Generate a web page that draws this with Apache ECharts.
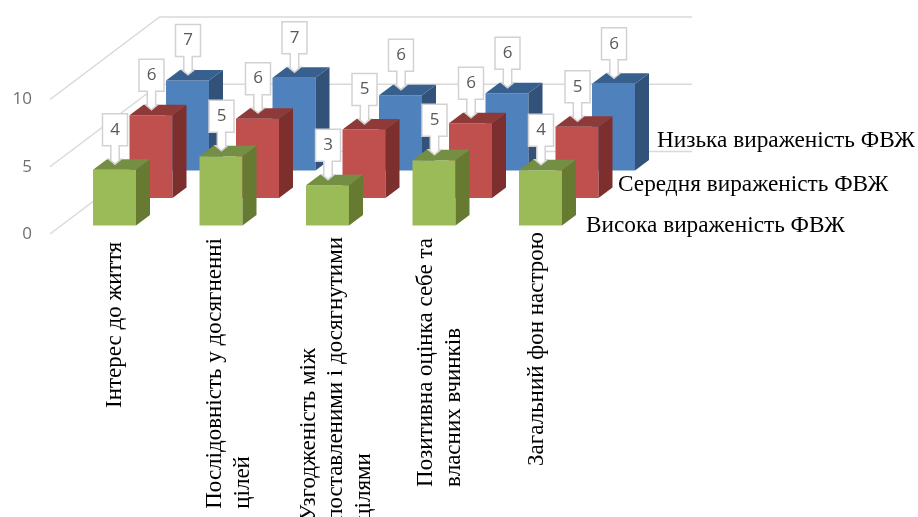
<!DOCTYPE html>
<html>
<head>
<meta charset="utf-8">
<style>html,body{margin:0;padding:0;background:#fff}#c{width:918px;height:517px}</style>
<script src="https://cdn.jsdelivr.net/npm/echarts@6/dist/echarts.min.js"></script>
</head>
<body>
<div id="c"></div>
<script>
const categories = ['Інтерес до життя', 'Послідовність у досягненні\nцілей', 'Узгодженість між\nпоставленими і досягнутими\nцілями', 'Позитивна оцінка себе та\nвласних вчинків', 'Загальний фон настрою'];
const seriesNames = ['Висока вираженість ФВЖ', 'Середня вираженість ФВЖ', 'Низька вираженість ФВЖ'];
const highValues = [4.15, 5.15, 3.0, 4.85, 4.1];
const midValues = [6.15, 5.9, 5.1, 5.55, 5.3];
const lowValues = [6.7, 6.9, 5.6, 5.75, 6.45];
const yTicks = [0, 5, 10];

// styling
const palette = [
  {front: '#9BBB59', side: '#667A32', top: '#748F43'},
  {front: '#C0504D', side: '#7C2F2D', top: '#8E3A38'},
  {front: '#4F81BD', side: '#32527A', top: '#38608F'}
];
const rowStep = [36.5, -27.5], rowPad = [11.25, -8.5], barDepth = [14, -10.5], barRatio = 43 / 106.5;
const labelNudge = [0, 8, 8.5, 6, -4];      // x shift of each category label
const labelTop = [242, 238, 237, 238, 232]; // y of the upper end of each label
const nameX = [586, 618, 657], nameY = [226, 185, 141];
const serif = '"Liberation Serif","Times New Roman",serif';
const sans = '"Open Sans",sans-serif';

function barItem(depth) {
  return function (params, api) {
    const cat = api.value(0), val = api.value(1);
    const p = api.coord([cat, val]), b = api.coord([cat, 0]);
    const band = api.size([1, 0])[0], w = band * barRatio;
    const ox = rowPad[0] + rowStep[0] * depth, oy = rowPad[1] + rowStep[1] * depth;
    const x = p[0] + ox - w / 2, t = p[1] + oy, bt = b[1] + oy;
    const dx = barDepth[0], dy = barDepth[1];
    const c = palette[depth];
    const cx = x + w / 2 + 0.5, tip = t - 5.5, bb = t - 24, bh = 32, bw = 25, neck = 4.2, head = 6, hy = tip - 5;
    return {
      type: 'group',
      children: [
        {type: 'rect', shape: {x: x, y: t, width: w, height: bt - t}, style: {fill: c.front}},
        {type: 'polygon', shape: {points: [[x + w, t], [x + w + dx, t + dy], [x + w + dx, bt + dy], [x + w, bt]]}, style: {fill: c.side}},
        {type: 'polygon', shape: {points: [[x, t], [x + w, t], [x + w + dx, t + dy], [x + dx, t + dy]]}, style: {fill: c.top}},
        {type: 'polygon', shape: {points: [
          [cx - bw / 2, bb - bh], [cx + bw / 2, bb - bh], [cx + bw / 2, bb], [cx + neck, bb], [cx + neck, hy],
          [cx + head, hy], [cx, tip], [cx - head, hy], [cx - neck, hy], [cx - neck, bb], [cx - bw / 2, bb]
        ]}, style: {fill: '#fff', stroke: '#d2d2d2', lineWidth: 1.5}},
        {type: 'text', x: cx, y: bb - bh / 2, style: {text: String(Math.round(val)), fill: '#595959', font: '17px ' + sans, align: 'center', verticalAlign: 'middle'}}
      ]
    };
  };
}
function wallItem(params, api) {
  const v = api.value(0), band = api.size([1, 0])[0];
  const a = api.coord([0, v]), z = api.coord([categories.length - 1, v]);
  const bx = rowStep[0] * 3, by = rowStep[1] * 3;
  const l = a[0] - band / 2, r = z[0] + band / 2;
  return {type: 'polyline', shape: {points: [[l, a[1]], [l + bx, a[1] + by], [r + bx, a[1] + by]]}, style: {fill: 'none', stroke: '#d9d9d9', lineWidth: 1.5}};
}
function labelItem(params, api) {
  const i = api.value(0), p = api.coord([i, 0]);
  const rows = categories[i].split('\n').map(s => '{a|' + s + '}').join('\n');
  return {type: 'text', x: p[0] + rowPad[0] + labelNudge[i], y: labelTop[i], rotation: Math.PI / 2, style: {
    text: rows, align: 'right', verticalAlign: 'middle',
    rich: {a: {align: 'left', lineHeight: 27.5, fontSize: 23, fontFamily: serif, fill: '#000'}}
  }};
}
const rows = [highValues, midValues, lowValues];
const chart = echarts.init(document.getElementById('c'), null, {renderer: 'canvas'});
const barSeries = [2, 1, 0].map(d => ({
  name: seriesNames[d], type: 'custom', renderItem: barItem(d), silent: true, z: 3 + (2 - d),
  encode: {x: 0, y: 1}, data: rows[d].map((v, i) => [i, v])
}));
chart.setOption({
  animation: false,
  backgroundColor: '#fff',
  grid: {left: 50, top: 99.5, width: 532.5, height: 134.5, containLabel: false},
  xAxis: {type: 'category', data: categories, axisLine: {show: false}, axisTick: {show: false}, axisLabel: {show: false}},
  yAxis: {type: 'value', min: 0, max: 10, interval: 5, axisLine: {show: false}, axisTick: {show: false}, splitLine: {show: false},
    axisLabel: {margin: 18, color: '#6f6f6f', fontSize: 17, fontFamily: sans, padding: [4, 0, 0, 0]}},
  series: [
    {type: 'custom', renderItem: wallItem, silent: true, z: 1, encode: {y: 0}, data: yTicks.map(v => [v]), clip: false},
    ...barSeries,
    {type: 'custom', renderItem: labelItem, silent: true, z: 8, encode: {x: 0}, data: categories.map((c, i) => [i])}
  ],
  graphic: seriesNames.map((n, i) => ({
    type: 'text', x: nameX[i], y: nameY[i], z: 10,
    style: {text: n, fill: '#000', font: '23.3px ' + serif, verticalAlign: 'middle'}
  }))
});
</script>
</body>
</html>
